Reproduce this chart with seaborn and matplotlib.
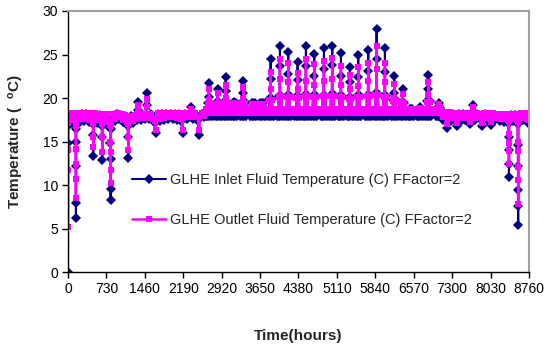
import matplotlib
matplotlib.use("Agg")
import matplotlib.pyplot as plt
import pandas as pd
import seaborn as sns

# ---------------- data ----------------
inlet_label = "GLHE Inlet Fluid Temperature (C) FFactor=2"
outlet_label = "GLHE Outlet Fluid Temperature (C) FFactor=2"

# heating season, start of year (hours, inlet, outlet)
early_hours = [0, 1, 2, 3, 30, 70, 110, 146, 148, 149, 150, 151, 154, 190, 230, 270, 310, 350,
               390, 430, 470, 478, 480, 483, 520, 560, 600, 640, 649, 651, 655, 690, 730, 770,
               804, 806, 808, 809, 810, 813, 850, 890, 930, 970, 1010, 1050, 1090, 1130, 1143,
               1145, 1149, 1190, 1230, 1270, 1310, 1334, 1336, 1340, 1380, 1420, 1460, 1493,
               1495, 1499, 1540, 1580, 1620, 1660, 1668, 1672, 1710, 1750, 1790, 1830, 1870,
               1910, 1950, 1990, 2030, 2070, 2110, 2150, 2178, 2182, 2220, 2260, 2300, 2337,
               2340, 2380, 2420, 2460, 2494, 2498, 2540, 2580]
early_inlet = [0.0, 14.8, 16.8, 17.6, 18.1, 17.2, 18.1, 16.9, 15.0, 12.2, 8.0, 6.2, 16.5, 18.1,
               17.3, 18.2, 17.4, 18.2, 17.3, 18.1, 17.2, 15.8, 13.4, 17.0, 18.1, 17.2, 18.1, 16.9,
               15.6, 12.9, 16.8, 18.0, 17.0, 18.0, 16.6, 14.8, 13.0, 9.6, 8.3, 16.5, 18.0, 17.4,
               18.2, 17.6, 18.1, 17.3, 18.0, 17.0, 15.6, 13.1, 16.8, 17.9, 17.2, 18.0, 17.5, 18.6,
               19.6, 17.8, 17.5, 18.1, 17.6, 19.2, 20.6, 17.9, 17.6, 18.2, 17.5, 17.2, 16.0, 17.5,
               18.2, 17.4, 18.2, 17.5, 18.2, 17.6, 18.2, 17.6, 18.2, 17.5, 18.2, 17.4, 16.0, 17.6,
               18.2, 17.6, 18.2, 19.0, 17.8, 17.6, 18.2, 17.5, 15.8, 17.6, 18.2, 17.8]
early_outlet = [5.2, 11.8, 14.0, 17.2, 18.3, 17.5, 18.3, 17.2, 14.2, 12.4, 10.7, 8.5, 16.8, 18.3,
                17.6, 18.3, 17.6, 18.3, 17.5, 18.3, 17.4, 15.5, 14.4, 17.2, 18.3, 17.5, 18.2, 17.2,
                15.5, 13.8, 17.0, 18.2, 17.3, 18.2, 16.9, 15.0, 13.8, 11.8, 10.3, 16.8, 18.2, 17.6,
                18.3, 17.8, 18.2, 17.5, 18.1, 17.3, 15.5, 14.1, 17.0, 18.0, 17.4, 18.1, 17.6, 18.5,
                19.2, 17.9, 17.7, 18.2, 17.7, 19.0, 19.9, 18.0, 17.7, 18.2, 17.6, 17.4, 16.3, 17.6,
                18.3, 17.6, 18.3, 17.7, 18.3, 17.8, 18.3, 17.8, 18.3, 17.7, 18.3, 17.6, 16.4, 17.7,
                18.3, 17.8, 18.3, 18.8, 18.0, 17.8, 18.3, 17.8, 16.3, 17.8, 18.3, 18.0]

# cooling season: weekly peaks
peak_hours = [2679, 2844, 2996, 3160, 3331, 3521, 3680, 3851, 4028, 4186, 4364, 4522, 4680, 4864,
              5022, 5187, 5358, 5516, 5706, 5865, 6023, 6200, 6359, 6516, 6688, 6846, 7049]
inlet_peak = [21.7, 21.0, 22.4, 19.6, 22.0, 19.5, 19.5, 24.5, 26.0, 25.3, 24.2, 26.0, 25.1, 25.7,
              26.0, 25.2, 23.6, 25.0, 25.5, 27.9, 25.7, 22.5, 21.1, 18.8, 19.0, 22.7, 19.5]
inlet_mid = [20.1, 19.6, 20.8, 19.2, 20.6, 19.1, 19.1, 22.2, 23.7, 22.8, 22.1, 23.7, 22.6, 23.4,
             23.8, 22.5, 21.9, 22.4, 23.1, 24.5, 23.0, 20.6, 19.6, 18.6, 18.7, 21.0, 19.1]
outlet_peak = [21.0, 20.6, 21.5, 19.4, 21.3, 19.3, 19.3, 23.0, 24.5, 24.0, 22.9, 24.5, 23.9, 24.3,
               24.6, 23.7, 22.7, 23.6, 24.0, 26.0, 24.0, 21.6, 20.5, 18.7, 18.9, 21.9, 19.3]
outlet_mid = [19.8, 19.5, 20.0, 19.0, 19.9, 19.0, 19.0, 21.0, 22.2, 21.8, 21.0, 22.0, 21.5, 22.0,
              22.2, 21.5, 21.1, 21.4, 22.0, 23.4, 21.9, 20.0, 19.6, 18.5, 18.6, 20.4, 18.9]
inlet_daily = [19.4, 19.4, 19.6, 19.4, 19.6, 19.4, 19.4, 19.9, 20.3, 20.2, 20.1, 20.4, 20.2, 20.3,
               20.4, 20.2, 20.0, 20.2, 20.3, 20.5, 20.2, 19.8, 19.5, 18.8, 18.8, 19.7, 18.9]
outlet_daily = [19.3, 19.3, 19.5, 19.3, 19.5, 19.3, 19.3, 19.8, 20.2, 20.1, 20.0, 20.3, 20.1, 20.2,
                20.3, 20.1, 19.9, 20.1, 20.2, 20.4, 20.1, 19.7, 19.4, 18.8, 18.8, 19.6, 18.9]
summer_base_inlet = 18.0
summer_base_outlet = 18.3
shoulder_inlet = 18.5
shoulder_outlet = 18.8

# heating season, end of year
late_hours = [7120, 7160, 7200, 7205, 7240, 7280, 7320, 7360, 7385, 7390, 7430, 7470, 7510, 7550,
              7590, 7630, 7640, 7670, 7700, 7705, 7740, 7780, 7820, 7860, 7875, 7880, 7920, 7960,
              8000, 8040, 8045, 8080, 8120, 8160, 8200, 8240, 8280, 8320, 8360, 8374, 8376, 8378,
              8380, 8384, 8420, 8460, 8500, 8540, 8550, 8552, 8553, 8554, 8555, 8558, 8600, 8640,
              8680, 8720, 8740, 8760]
late_inlet = [17.5, 18.2, 16.6, 17.6, 18.2, 17.4, 18.2, 17.5, 16.8, 17.6, 18.2, 17.4, 18.2, 17.5,
              18.1, 17.0, 17.8, 18.2, 19.2, 18.0, 17.5, 18.2, 17.6, 18.1, 16.8, 17.6, 18.2, 17.5,
              18.1, 16.9, 17.6, 18.1, 17.5, 18.0, 17.4, 18.0, 17.3, 18.0, 17.2, 15.5, 14.0, 12.4,
              10.9, 17.2, 18.1, 17.4, 18.1, 17.3, 14.6, 12.2, 9.5, 7.6, 5.5, 17.0, 18.1, 17.5,
              18.1, 17.4, 17.2, 18.0]
late_outlet = [17.8, 18.4, 17.0, 17.8, 18.4, 17.7, 18.3, 17.7, 17.2, 17.8, 18.3, 17.7, 18.3, 17.7,
               18.3, 17.3, 17.9, 18.3, 19.0, 18.1, 17.7, 18.3, 17.8, 18.2, 17.2, 17.8, 18.3, 17.7,
               18.3, 17.3, 17.8, 18.3, 17.7, 18.2, 17.6, 18.2, 17.6, 18.2, 17.5, 15.9, 14.9, 13.9,
               12.5, 17.4, 18.2, 17.6, 18.2, 17.5, 15.0, 13.9, 12.1, 10.6, 7.9, 17.3, 18.3, 17.7,
               18.3, 17.6, 17.5, 18.2]

x_tick_values = [0, 730, 1460, 2190, 2920, 3650, 4380, 5110, 5840, 6570, 7300, 8030, 8760]
x_tick_labels = ["0", "730", "1460", "2190", "2920", "3650", "4380", "5110", "5840", "6570",
                 "7300", "8030", "8760"]
y_tick_values = [0, 5, 10, 15, 20, 25, 30]

# ---------------- assemble long table ----------------
hours = list(early_hours)
inlet = list(early_inlet)
outlet = list(early_outlet)
bi, bo = summer_base_inlet, summer_base_outlet
for i, tp in enumerate(peak_hours):
    week = [
        (tp - 60, bi, bo),
        (tp - 48, shoulder_inlet, shoulder_outlet),
        (tp - 36, bi, bo),
        (tp - 24, inlet_daily[i], outlet_daily[i]),
        (tp - 12, bi, bo),
        (tp - 2, inlet_mid[i], outlet_mid[i]),
        (tp, inlet_peak[i], outlet_peak[i]),
        (tp + 2, bi, bo),
        (tp + 24, inlet_daily[i], outlet_daily[i]),
        (tp + 36, bi, bo),
        (tp + 48, shoulder_inlet, shoulder_outlet),
        (tp + 60, bi, bo),
    ]
    for h, a, b in week:
        hours.append(h)
        inlet.append(a)
        outlet.append(b)
hours += late_hours
inlet += late_inlet
outlet += late_outlet

df = pd.DataFrame({"hour": hours, "inlet": inlet, "outlet": outlet}).sort_values("hour")

# ---------------- plot ----------------
sns.set_style("white")
plt.rcParams["font.family"] = ["Liberation Sans", "DejaVu Sans"]
plt.rcParams["mathtext.fontset"] = "custom"
plt.rcParams["mathtext.rm"] = "Liberation Sans"
plt.rcParams["mathtext.bf"] = "Liberation Sans:bold"

fig = plt.figure(figsize=(5.55, 3.47), dpi=100)
ax = fig.add_axes([0.1225, 0.2147, 0.8306, 0.7536])

navy = "#000080"
magenta = "#FF00FF"

sns.lineplot(data=df, x="hour", y="inlet", ax=ax, color=navy, marker="D", markersize=4.6,
             markeredgewidth=0, linewidth=1.5, label=inlet_label, estimator=None)
sns.lineplot(data=df, x="hour", y="outlet", ax=ax, color=magenta, marker="s", markersize=4.4,
             markeredgewidth=0, linewidth=1.8, label=outlet_label, estimator=None)

ax.set_xlim(0, 8760)
ax.set_ylim(0, 30)
ax.set_xticks(x_tick_values)
ax.set_xticklabels(x_tick_labels)
ax.set_yticks(y_tick_values)
ax.tick_params(axis="both", direction="out", length=4, width=1, colors="black",
               labelsize=10, pad=3)
ax.tick_params(axis="x", bottom=True)
ax.tick_params(axis="y", left=True)

for side in ("left", "bottom"):
    ax.spines[side].set_color("black")
    ax.spines[side].set_linewidth(1.0)
for side in ("top", "right"):
    ax.spines[side].set_color("#a0a0a0")
    ax.spines[side].set_linewidth(1.5)

ax.set_xlabel("Time(hours)", fontsize=11, fontweight="bold")
ax.set_ylabel(r"Temperature (  $\mathbf{^{o}}$C)", fontsize=11, fontweight="bold")
ax.xaxis.set_label_coords(0.5, -0.215)
ax.yaxis.set_label_coords(-0.092, 0.5)

ax.legend(loc="upper left", bbox_to_anchor=(0.138, 0.38), frameon=False, fontsize=10.5,
          handlelength=2.33, handletextpad=0.3, labelspacing=1.75, borderpad=0,
          borderaxespad=0, numpoints=1)

fig.savefig("out.png", dpi=100)
